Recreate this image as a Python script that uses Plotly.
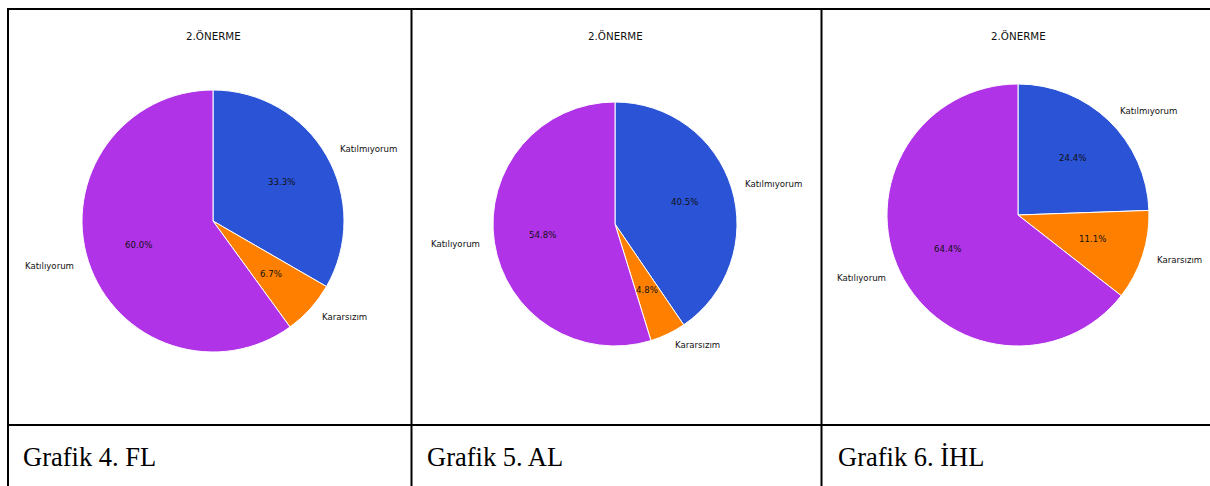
import math
import plotly.graph_objects as go

W, H = 1210, 486

# Response categories, drawn clockwise from 12 o'clock
categories = ["Katılmıyorum", "Kararsızım", "Katılıyorum"]
colors = ["#2A53D6", "#FF8000", "#B133E8"]

# Response counts per school type
fl_counts = [15, 3, 27]
al_counts = [17, 2, 23]
ihl_counts = [11, 5, 29]

titles = ["2.ÖNERME", "2.ÖNERME", "2.ÖNERME"]
captions = ["Grafik 4. FL", "Grafik 5. AL", "Grafik 6. İHL"]

# Pie layout in pixels: centre x, centre y (from top), radius
pies = [
    (fl_counts, 213, 221, 131),
    (al_counts, 615, 224, 122),
    (ihl_counts, 1018, 215, 131),
]
title_x = [213, 615, 1018]
caption_x = [22, 426, 837]

fig = go.Figure()
annotations = []


def px(x):
    return x / W


def py(y_top):
    return 1 - y_top / H


for (counts, cx, cy, r), tx, ttl in zip(pies, title_x, titles):
    fig.add_trace(go.Pie(
        labels=categories,
        values=counts,
        sort=False,
        direction="clockwise",
        rotation=0,
        marker=dict(colors=colors, line=dict(color="white", width=1)),
        textinfo="none",
        hoverinfo="label+percent",
        showlegend=False,
        domain=dict(x=[px(cx - r), px(cx + r)], y=[py(cy + r), py(cy - r)]),
    ))
    total = sum(counts)
    cum = 0.0
    for lab, v in zip(categories, counts):
        frac = v / total
        theta = math.radians(90 - 360 * (cum + frac / 2))
        cum += frac
        c, s = math.cos(theta), math.sin(theta)
        # category label just outside the rim
        lx, ly = cx + 1.1 * r * c, cy - 1.1 * r * s
        annotations.append(dict(
            x=px(lx), y=py(ly), xref="paper", yref="paper", text=lab,
            showarrow=False, xanchor="left" if c > 0 else "right", yanchor="middle",
            font=dict(family="DejaVu Sans", size=8.6, color="#111"),
        ))
        # percentage inside the slice
        qx, qy = cx + 0.6 * r * c, cy - 0.6 * r * s
        annotations.append(dict(
            x=px(qx), y=py(qy), xref="paper", yref="paper",
            text=f"{100 * frac:.1f}%", showarrow=False,
            xanchor="center", yanchor="middle",
            font=dict(family="DejaVu Sans", size=8.6, color="#111"),
        ))
    annotations.append(dict(
        x=px(tx), y=py(36), xref="paper", yref="paper", text=ttl,
        showarrow=False, xanchor="center", yanchor="middle",
        font=dict(family="DejaVu Sans", size=10.3, color="#111"),
    ))

for x0, cap in zip(caption_x, captions):
    annotations.append(dict(
        x=px(x0 - 1), y=py(457), xref="paper", yref="paper", text=cap,
        showarrow=False, xanchor="left", yanchor="middle",
        font=dict(family="Liberation Serif", size=26.5, color="black"),
    ))

# Table grid lines
shapes = []
line = dict(color="black", width=2)
shapes.append(dict(type="line", xref="paper", yref="paper",
                   x0=px(7), x1=1, y0=py(9), y1=py(9), line=line))
shapes.append(dict(type="line", xref="paper", yref="paper",
                   x0=px(7), x1=1, y0=py(425), y1=py(425), line=line))
for vx in [8, 411.5, 821.5]:
    shapes.append(dict(type="line", xref="paper", yref="paper",
                       x0=px(vx), x1=px(vx), y0=py(8), y1=0, line=line))

fig.update_layout(
    width=W, height=H,
    margin=dict(l=0, r=0, t=0, b=0),
    paper_bgcolor="white", plot_bgcolor="white",
    annotations=annotations, shapes=shapes,
)

fig.write_html("out.html")
